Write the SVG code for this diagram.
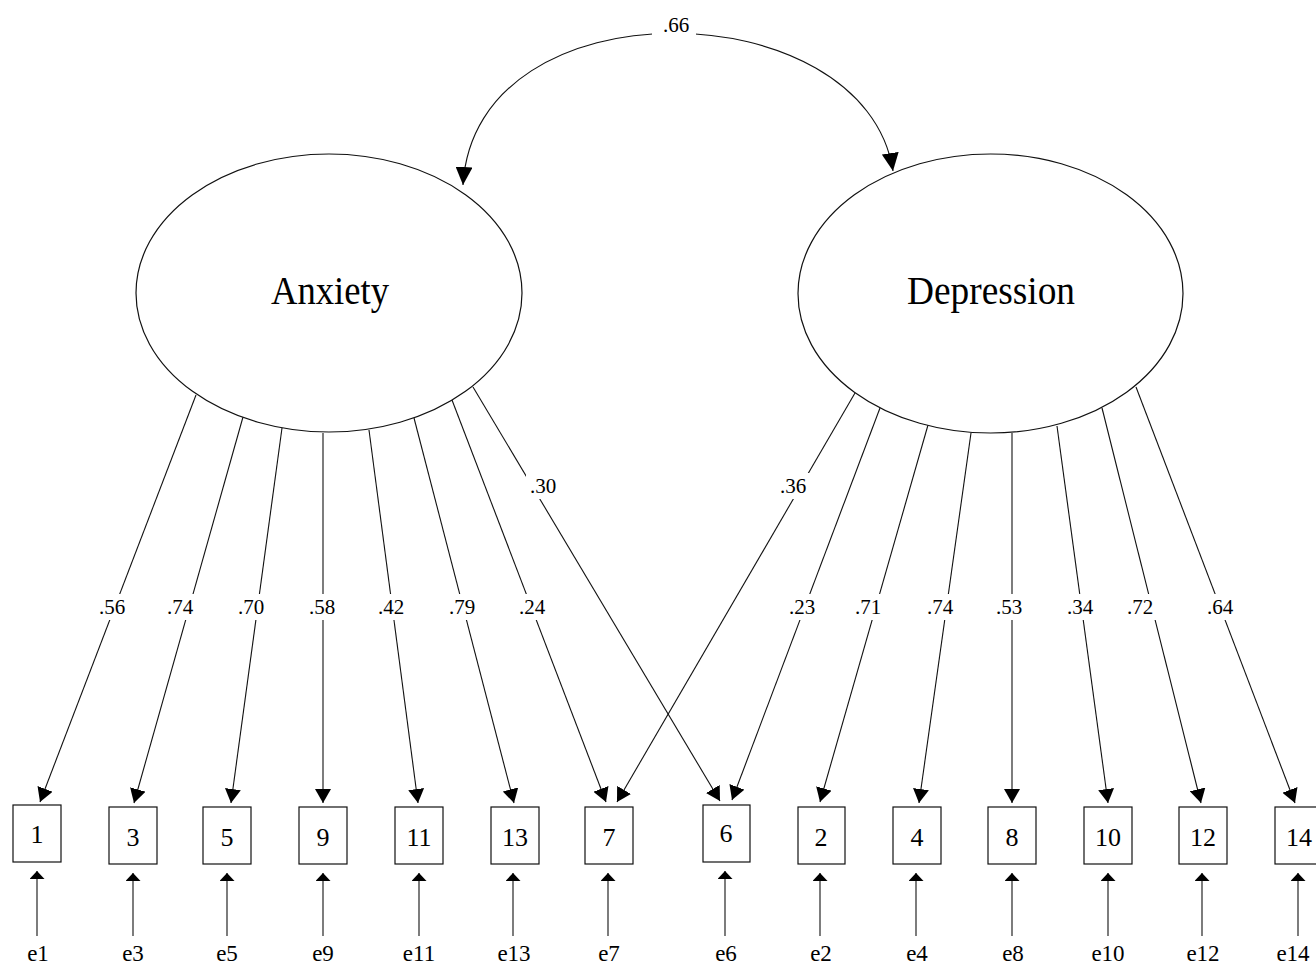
<svg xmlns="http://www.w3.org/2000/svg" width="1316" height="967" viewBox="0 0 1316 967">
<style>
.ln{stroke:#111;stroke-width:1.1;fill:none}
.box{fill:#fff;stroke:#111;stroke-width:1.2}
.ell{fill:#fff;stroke:#111;stroke-width:1.2}
.t{font-family:"Liberation Serif","Times New Roman",serif;fill:#000;text-anchor:middle}
.lab{font-size:21px}
.num{font-size:26px}
.err{font-size:23px}
.big{font-size:40px}
.bg{fill:#fff;stroke:none}
</style>
<defs>
<marker id="ah" viewBox="0 0 14 16" refX="14" refY="8" markerWidth="14" markerHeight="16" markerUnits="userSpaceOnUse" orient="auto"><path d="M0,0 L14,8 L0,16 z" fill="#000"/></marker>
<marker id="eh" viewBox="0 0 8 15" refX="8" refY="7.5" markerWidth="8" markerHeight="15" markerUnits="userSpaceOnUse" orient="auto"><path d="M0,0 L8,7.5 L0,15 z" fill="#000"/></marker>
<marker id="ch" viewBox="0 0 18 17" refX="18" refY="8.5" markerWidth="18" markerHeight="17" markerUnits="userSpaceOnUse" orient="auto-start-reverse"><path d="M0,0 L18,8.5 L0,17 z" fill="#000"/></marker>
</defs>
<rect width="1316" height="967" fill="#fff"/>
<g id="connectors">
<path class="ln" d="M463,185 C475,-20 865,-10 893,171" marker-start="url(#ch)" marker-end="url(#ch)"/>
<line class="ln" x1="196" y1="395" x2="40" y2="802" marker-end="url(#ah)"/>
<line class="ln" x1="243" y1="417" x2="134" y2="803" marker-end="url(#ah)"/>
<line class="ln" x1="282" y1="428" x2="231" y2="803" marker-end="url(#ah)"/>
<line class="ln" x1="323" y1="433" x2="323" y2="803" marker-end="url(#ah)"/>
<line class="ln" x1="369" y1="430" x2="418" y2="803" marker-end="url(#ah)"/>
<line class="ln" x1="414" y1="418" x2="514" y2="803" marker-end="url(#ah)"/>
<line class="ln" x1="452" y1="400" x2="606" y2="802" marker-end="url(#ah)"/>
<line class="ln" x1="473" y1="387" x2="720" y2="801" marker-end="url(#ah)"/>
<line class="ln" x1="855" y1="393" x2="617" y2="802" marker-end="url(#ah)"/>
<line class="ln" x1="880" y1="408" x2="732" y2="800" marker-end="url(#ah)"/>
<line class="ln" x1="928" y1="425" x2="820" y2="802" marker-end="url(#ah)"/>
<line class="ln" x1="971" y1="433" x2="919" y2="803" marker-end="url(#ah)"/>
<line class="ln" x1="1012" y1="433" x2="1012" y2="803" marker-end="url(#ah)"/>
<line class="ln" x1="1057" y1="426" x2="1108" y2="803" marker-end="url(#ah)"/>
<line class="ln" x1="1102" y1="408" x2="1201" y2="803" marker-end="url(#ah)"/>
<line class="ln" x1="1136" y1="387" x2="1295" y2="803" marker-end="url(#ah)"/>
<line class="ln" x1="37" y1="936" x2="37" y2="871" marker-end="url(#eh)"/>
<line class="ln" x1="133" y1="936" x2="133" y2="873" marker-end="url(#eh)"/>
<line class="ln" x1="227" y1="936" x2="227" y2="873" marker-end="url(#eh)"/>
<line class="ln" x1="323" y1="936" x2="323" y2="873" marker-end="url(#eh)"/>
<line class="ln" x1="419" y1="936" x2="419" y2="873" marker-end="url(#eh)"/>
<line class="ln" x1="513" y1="936" x2="513" y2="873" marker-end="url(#eh)"/>
<line class="ln" x1="608" y1="936" x2="608" y2="873" marker-end="url(#eh)"/>
<line class="ln" x1="725" y1="936" x2="725" y2="871" marker-end="url(#eh)"/>
<line class="ln" x1="820" y1="936" x2="820" y2="873" marker-end="url(#eh)"/>
<line class="ln" x1="916" y1="936" x2="916" y2="873" marker-end="url(#eh)"/>
<line class="ln" x1="1012" y1="936" x2="1012" y2="873" marker-end="url(#eh)"/>
<line class="ln" x1="1108" y1="936" x2="1108" y2="873" marker-end="url(#eh)"/>
<line class="ln" x1="1202" y1="936" x2="1202" y2="873" marker-end="url(#eh)"/>
<line class="ln" x1="1298" y1="936" x2="1298" y2="873" marker-end="url(#eh)"/>
</g>
<g id="path-labels">
<rect class="bg" x="652" y="12" width="44" height="28"/><text class="t lab" x="676" y="32">.66</text>
<rect class="bg" x="95" y="594" width="34" height="26"/><text class="t lab" x="112" y="614">.56</text>
<rect class="bg" x="163" y="594" width="34" height="26"/><text class="t lab" x="180" y="614">.74</text>
<rect class="bg" x="234" y="594" width="34" height="26"/><text class="t lab" x="251" y="614">.70</text>
<rect class="bg" x="305" y="594" width="34" height="26"/><text class="t lab" x="322" y="614">.58</text>
<rect class="bg" x="374" y="594" width="34" height="26"/><text class="t lab" x="391" y="614">.42</text>
<rect class="bg" x="445" y="594" width="34" height="26"/><text class="t lab" x="462" y="614">.79</text>
<rect class="bg" x="515" y="594" width="34" height="26"/><text class="t lab" x="532" y="614">.24</text>
<rect class="bg" x="526" y="473" width="34" height="26"/><text class="t lab" x="543" y="493">.30</text>
<rect class="bg" x="776" y="473" width="34" height="26"/><text class="t lab" x="793" y="493">.36</text>
<rect class="bg" x="785" y="594" width="34" height="26"/><text class="t lab" x="802" y="614">.23</text>
<rect class="bg" x="851" y="594" width="34" height="26"/><text class="t lab" x="868" y="614">.71</text>
<rect class="bg" x="923" y="594" width="34" height="26"/><text class="t lab" x="940" y="614">.74</text>
<rect class="bg" x="992" y="594" width="34" height="26"/><text class="t lab" x="1009" y="614">.53</text>
<rect class="bg" x="1063" y="594" width="34" height="26"/><text class="t lab" x="1080" y="614">.34</text>
<rect class="bg" x="1123" y="594" width="34" height="26"/><text class="t lab" x="1140" y="614">.72</text>
<rect class="bg" x="1203" y="594" width="34" height="26"/><text class="t lab" x="1220" y="614">.64</text>
</g>
<g id="Anxiety"><ellipse class="ell" cx="329" cy="293" rx="193" ry="139"/><text class="t big" x="330" y="304" textLength="118" lengthAdjust="spacingAndGlyphs">Anxiety</text></g>
<g id="Depression"><ellipse class="ell" cx="990.5" cy="293.5" rx="192.5" ry="139.5"/><text class="t big" x="991" y="304" textLength="168" lengthAdjust="spacingAndGlyphs">Depression</text></g>
<g id="item1"><rect class="box" x="13" y="805" width="48" height="57"/><text class="t num" x="37" y="843">1</text></g>
<g id="item3"><rect class="box" x="109" y="807" width="48" height="57"/><text class="t num" x="133" y="846">3</text></g>
<g id="item5"><rect class="box" x="203" y="807" width="48" height="57"/><text class="t num" x="227" y="846">5</text></g>
<g id="item9"><rect class="box" x="299" y="807" width="48" height="57"/><text class="t num" x="323" y="846">9</text></g>
<g id="item11"><rect class="box" x="395" y="807" width="48" height="57"/><text class="t num" x="419" y="846">11</text></g>
<g id="item13"><rect class="box" x="491" y="807" width="48" height="57"/><text class="t num" x="515" y="846">13</text></g>
<g id="item7"><rect class="box" x="585" y="807" width="48" height="57"/><text class="t num" x="609" y="846">7</text></g>
<g id="item6"><rect class="box" x="703" y="805" width="47" height="57"/><text class="t num" x="726" y="842">6</text></g>
<g id="item2"><rect class="box" x="798" y="807" width="47" height="57"/><text class="t num" x="821" y="846">2</text></g>
<g id="item4"><rect class="box" x="893" y="807" width="48" height="57"/><text class="t num" x="917" y="846">4</text></g>
<g id="item8"><rect class="box" x="988" y="807" width="48" height="57"/><text class="t num" x="1012" y="846">8</text></g>
<g id="item10"><rect class="box" x="1084" y="807" width="48" height="57"/><text class="t num" x="1108" y="846">10</text></g>
<g id="item12"><rect class="box" x="1179" y="807" width="48" height="57"/><text class="t num" x="1203" y="846">12</text></g>
<g id="item14"><rect class="box" x="1275" y="807" width="48" height="57"/><text class="t num" x="1299" y="846">14</text></g>
<g id="errors">
<text class="t err" x="38" y="961">e1</text>
<text class="t err" x="133" y="961">e3</text>
<text class="t err" x="227" y="961">e5</text>
<text class="t err" x="323" y="961">e9</text>
<text class="t err" x="419" y="961">e11</text>
<text class="t err" x="514" y="961">e13</text>
<text class="t err" x="609" y="961">e7</text>
<text class="t err" x="726" y="961">e6</text>
<text class="t err" x="821" y="961">e2</text>
<text class="t err" x="917" y="961">e4</text>
<text class="t err" x="1013" y="961">e8</text>
<text class="t err" x="1108" y="961">e10</text>
<text class="t err" x="1203" y="961">e12</text>
<text class="t err" x="1293" y="961">e14</text>
</g>
</svg>
